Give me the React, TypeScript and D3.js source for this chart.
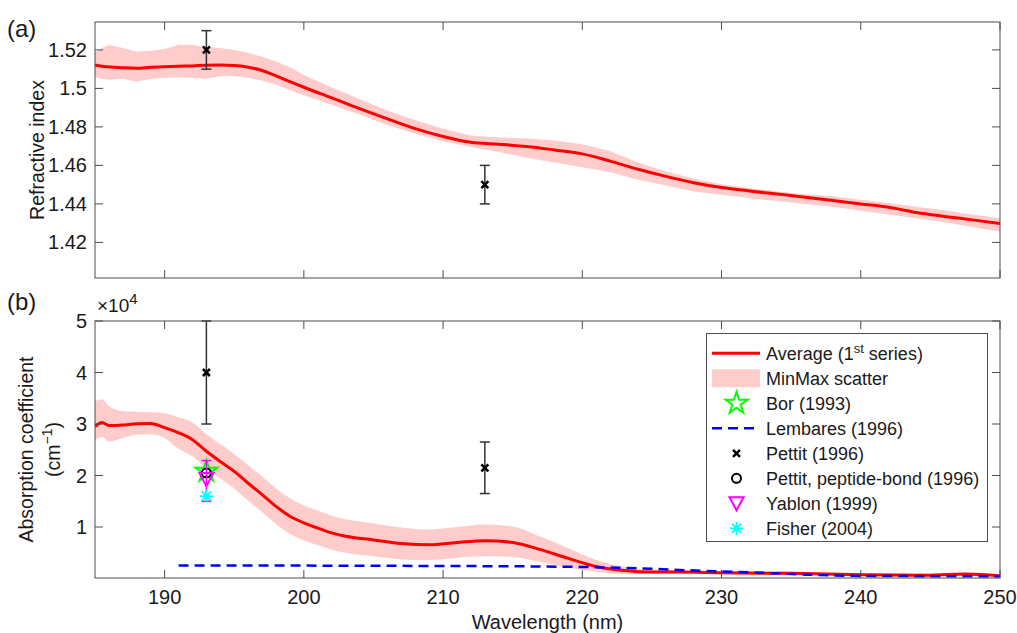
import React from "react";
import * as d3 from "d3";

// wavelength grid (nm) for the refractive index curve
const nWl = [185, 185.5, 186, 187, 188, 189, 190, 191, 192, 193, 194, 195, 196, 197, 198, 199, 200, 202, 204, 206, 208, 210, 212, 214, 216, 218, 220, 222, 224, 226, 228, 230, 232, 234, 236, 238, 240, 242, 244, 246, 248, 250];
const nAvg = [1.5122, 1.5115, 1.5112, 1.5107, 1.5105, 1.511, 1.5112, 1.5115, 1.5117, 1.512, 1.5121, 1.5119, 1.511, 1.5093, 1.5065, 1.5035, 1.5006, 1.4951, 1.4895, 1.4842, 1.4791, 1.475, 1.472, 1.471, 1.4698, 1.468, 1.466, 1.4622, 1.458, 1.4543, 1.451, 1.4485, 1.4467, 1.4451, 1.4435, 1.4418, 1.44, 1.4383, 1.4355, 1.4335, 1.4317, 1.4298];
const nMax = [1.5188, 1.521, 1.5225, 1.521, 1.519, 1.5195, 1.5205, 1.5227, 1.5225, 1.5215, 1.521, 1.52, 1.5185, 1.5165, 1.514, 1.511, 1.507, 1.5005, 1.4945, 1.4885, 1.4835, 1.479, 1.4755, 1.4745, 1.474, 1.473, 1.471, 1.4675, 1.4615, 1.4568, 1.453, 1.4502, 1.4482, 1.4465, 1.445, 1.444, 1.4422, 1.4405, 1.4385, 1.4367, 1.4345, 1.4325];
const nMin = [1.5058, 1.505, 1.5045, 1.505, 1.5035, 1.505, 1.5055, 1.5058, 1.5055, 1.505, 1.5063, 1.5065, 1.5055, 1.504, 1.502, 1.499, 1.4965, 1.4915, 1.4865, 1.481, 1.4765, 1.4725, 1.4695, 1.467, 1.464, 1.4615, 1.459, 1.4565, 1.4525, 1.4495, 1.4465, 1.4448, 1.443, 1.4415, 1.44, 1.4385, 1.4365, 1.4345, 1.4325, 1.4305, 1.428, 1.4255];

// wavelength grid (nm) for the absorption coefficient curve
const aWl = [185, 185.5, 186, 187, 188, 189, 190, 191, 192, 193, 194, 195, 196, 197, 198, 199, 200, 201, 202, 203, 205, 207, 209, 211, 213, 215, 217, 219, 221, 223, 225, 227, 230, 235, 240, 245, 247.5, 250];
const aAvg = [29500, 30300, 29700, 29800, 30050, 30100, 29300, 28300, 26950, 24700, 22700, 20800, 18500, 16300, 14000, 12100, 10800, 9800, 8850, 8200, 7500, 6800, 6550, 7000, 7350, 7000, 5600, 3900, 2350, 1550, 1250, 1250, 1100, 1000, 750, 650, 880, 550];
const aMax = [34400, 34800, 33500, 32500, 32400, 32300, 32100, 31300, 30300, 28000, 26100, 24200, 22000, 19800, 17500, 15600, 14200, 13200, 12200, 11500, 10700, 9900, 9500, 10000, 10500, 10100, 8100, 5900, 3600, 2300, 1700, 1600, 1450, 1300, 1050, 950, 1150, 850];
const aMin = [26950, 27500, 26600, 27300, 27900, 28000, 27300, 25200, 23700, 21400, 19400, 17500, 15100, 12900, 10600, 8700, 7400, 6500, 5600, 5000, 4300, 3700, 3600, 4000, 4300, 4200, 3200, 2100, 1300, 900, 900, 950, 800, 700, 500, 400, 600, 300];

// Lembares (1996)
const lemWl = [191, 205, 215, 220, 224, 227, 230, 233, 236, 239, 245, 250];
const lemVal = [2550, 2480, 2380, 2250, 2000, 1650, 1380, 1100, 750, 520, 450, 400];

// Pettit (1996) with error bars
const pettitWl = [193, 213];
const pettitN = [1.52, 1.45];
const pettitNErr = [0.01, 0.01];
const pettitA = [40000, 21500];
const pettitAErr = [10000, 5000];

// single points at 193 nm
const borA = 20800;
const peptideA = 20500;
const yablonA = 19300;
const yablonLo = 15000;
const yablonHi = 22900;
const fisherA = 16000;
const pointWl = 193;

const xTicks = [190, 200, 210, 220, 230, 240, 250];
const nTicks = [1.42, 1.44, 1.46, 1.48, 1.5, 1.52];
const aTicks = [1, 2, 3, 4, 5];

const legendLabels = ["Average", "MinMax scatter", "Bor (1993)", "Lembares (1996)", "Pettit (1996)", "Pettit, peptide-bond (1996)", "Yablon (1999)", "Fisher (2004)"];

const FONT = "'Liberation Sans', Arial, Helvetica, sans-serif";
const AX = "#4d4d4d";
const TXT = "#1a1a1a";

const X0 = 95, X1 = 1000;
const x = d3.scaleLinear().domain([185, 250]).range([X0, X1]);
const yN = d3.scaleLinear().domain([1.4015, 1.5345]).range([278, 22]);
const yA = d3.scaleLinear().domain([100, 50000]).range([578, 321]);

const cross = (cx, cy, s, color, w) => (
  <path d={`M${cx - s},${cy - s}L${cx + s},${cy + s}M${cx - s},${cy + s}L${cx + s},${cy - s}`} stroke={color} strokeWidth={w} fill="none" />
);
const star = (cx, cy, color) => (
  <path d={d3.symbol(d3.symbolStar, 150)()} transform={`translate(${cx},${cy})`} fill="none" stroke={color} strokeWidth={2} />
);
const triDown = (cx, cy, color) => (
  <path d={`M${cx - 7},${cy - 6}L${cx + 7},${cy - 6}L${cx},${cy + 7}Z`} fill="none" stroke={color} strokeWidth={2} />
);
const asterisk = (cx, cy, color) => {
  const r = 6.5, d = r * 0.7071;
  return (
    <path d={`M${cx},${cy - r}V${cy + r}M${cx - r},${cy}H${cx + r}M${cx - d},${cy - d}L${cx + d},${cy + d}M${cx - d},${cy + d}L${cx + d},${cy - d}`} stroke={color} strokeWidth={1.8} fill="none" />
  );
};
const errBar = (cx, lo, hi, color, key) => (
  <g key={key} stroke={color} strokeWidth={1.5}>
    <line x1={cx} x2={cx} y1={lo} y2={hi} />
    <line x1={cx - 5} x2={cx + 5} y1={lo} y2={lo} />
    <line x1={cx - 5} x2={cx + 5} y1={hi} y2={hi} />
  </g>
);

const Frame = ({ y, ticksY, top, bottom }) => (
  <g>
    {xTicks.map((t) => (
      <g key={"xt" + t} stroke={AX} strokeWidth={1}>
        <line x1={x(t)} x2={x(t)} y1={bottom} y2={bottom - 8} />
        <line x1={x(t)} x2={x(t)} y1={top} y2={top + 8} />
      </g>
    ))}
    {ticksY.map((t) => (
      <g key={"yt" + t} stroke={AX} strokeWidth={1}>
        <line x1={X0} x2={X0 + 8} y1={y(t)} y2={y(t)} />
        <line x1={X1} x2={X1 - 8} y1={y(t)} y2={y(t)} />
      </g>
    ))}
    <rect x={X0} y={top} width={X1 - X0} height={bottom - top} fill="none" stroke={AX} strokeWidth={1} />
  </g>
);

export default function App() {
  const nLine = d3.line().curve(d3.curveMonotoneX).x((d, i) => x(nWl[i])).y((d) => yN(d))(nAvg);
  const nArea = d3.area().x((d, i) => x(nWl[i])).y0((d, i) => yN(nMin[i])).y1((d) => yN(d))(nMax);
  const aLine = d3.line().curve(d3.curveMonotoneX).x((d, i) => x(aWl[i])).y((d) => yA(d))(aAvg);
  const aArea = d3.area().curve(d3.curveMonotoneX).x((d, i) => x(aWl[i])).y0((d, i) => yA(aMin[i])).y1((d) => yA(d))(aMax);
  const lemLine = d3.line().x((d, i) => x(lemWl[i])).y((d) => yA(d))(lemVal);
  const px = x(pointWl);

  const legX = 706.5, legY = 333.5;
  const rowY = (i) => 353.3 + 25 * i;
  const symX = 736.5;

  return (
    <svg width={1017} height={633} style={{ position: "absolute", left: 0, top: 0, background: "#fff" }} fontFamily={FONT}>
      <defs>
        <clipPath id="clipTop"><rect x={X0} y={22} width={X1 - X0} height={256} /></clipPath>
        <clipPath id="clipBot"><rect x={X0} y={321} width={X1 - X0} height={257} /></clipPath>
      </defs>

      {/* (a) refractive index */}
      <g clipPath="url(#clipTop)">
        <path d={nArea} fill="#ffcccc" />
        <path d={nLine} fill="none" stroke="#ff0000" strokeWidth={3} />
      </g>
      {pettitWl.map((w, i) => errBar(x(w), yN(pettitN[i] - pettitNErr[i]), yN(pettitN[i] + pettitNErr[i]), "#333", "pn" + i))}
      {pettitWl.map((w, i) => <g key={"pnx" + i}>{cross(x(w), yN(pettitN[i]), 3.5, "#000", 2.5)}</g>)}
      <Frame y={yN} ticksY={nTicks} top={22} bottom={278} />
      {nTicks.map((t) => (
        <text key={"nl" + t} x={87} y={yN(t)} dy="0.35em" textAnchor="end" fontSize={20} fill={TXT}>{String(t)}</text>
      ))}
      <text transform="translate(44,150) rotate(-90)" textAnchor="middle" fontSize={19.5} fill={TXT}>Refractive index</text>
      <text x={7} y={37} fontSize={24} fill={TXT}>(a)</text>

      {/* (b) absorption coefficient */}
      <g clipPath="url(#clipBot)">
        <path d={aArea} fill="#ffcccc" />
        <path d={aLine} fill="none" stroke="#ff0000" strokeWidth={3} />
        <path d={lemLine} fill="none" stroke="#0000ff" strokeWidth={2.5} strokeDasharray="10,6" />
      </g>
      {pettitWl.map((w, i) => errBar(x(w), yA(pettitA[i] - pettitAErr[i]), yA(pettitA[i] + pettitAErr[i]), "#333", "pa" + i))}
      {pettitWl.map((w, i) => <g key={"pax" + i}>{cross(x(w), yA(pettitA[i]), 3.5, "#000", 2.5)}</g>)}
      {star(px, yA(borA), "#00ff00")}
      <circle cx={px} cy={yA(peptideA)} r={4.5} fill="none" stroke="#000" strokeWidth={2} />
      {errBar(px, yA(yablonLo), yA(yablonHi), "#ff00ff", "yab")}
      {triDown(px, yA(yablonA), "#ff00ff")}
      {asterisk(px, yA(fisherA), "#00ffff")}
      <Frame y={yA} ticksY={aTicks.map((t) => t * 10000)} top={321} bottom={578} />
      {aTicks.map((t) => (
        <text key={"al" + t} x={87} y={yA(t * 10000)} dy="0.35em" textAnchor="end" fontSize={20} fill={TXT}>{t}</text>
      ))}
      <text x={97} y={312} fontSize={19} fill={TXT}>×10<tspan dy={-8} fontSize={15}>4</tspan></text>
      {xTicks.map((t) => (
        <text key={"xl" + t} x={x(t)} y={604} textAnchor="middle" fontSize={20} fill={TXT}>{t}</text>
      ))}
      <text x={(X0 + X1) / 2} y={629} textAnchor="middle" fontSize={20} fill={TXT}>Wavelength (nm)</text>
      <g transform="translate(33,449.5) rotate(-90)" fill={TXT}>
        <text x={0} y={0} textAnchor="middle" fontSize={19.5}>Absorption coefficient</text>
        <text x={0} y={27} textAnchor="middle" fontSize={19.5}>(cm<tspan dy={-8} fontSize={14}>−1</tspan><tspan dy={8}>)</tspan></text>
      </g>
      <text x={7} y={310} fontSize={24} fill={TXT}>(b)</text>

      {/* legend */}
      <rect x={legX} y={legY} width={281} height={208} fill="#fff" stroke={AX} strokeWidth={1} />
      <line x1={712} x2={760} y1={rowY(0)} y2={rowY(0)} stroke="#ff0000" strokeWidth={3} />
      <rect x={712} y={rowY(1) - 9} width={48} height={18} fill="#ffcccc" />
      {star(symX, rowY(2), "#00ff00")}
      <line x1={712} x2={760} y1={rowY(3)} y2={rowY(3)} stroke="#0000ff" strokeWidth={2.5} strokeDasharray="10,6" />
      {cross(symX, rowY(4), 3.5, "#000", 2.5)}
      <circle cx={symX} cy={rowY(5)} r={4.5} fill="none" stroke="#000" strokeWidth={2} />
      {triDown(symX, rowY(6), "#ff00ff")}
      {asterisk(symX, rowY(7), "#00ffff")}
      {legendLabels.map((l, i) => (
        <text key={l} x={766} y={rowY(i)} dy="0.36em" fontSize={18} fill={TXT}>
          {i === 0 ? (<>{l} (1<tspan dy={-7} fontSize={13}>st</tspan><tspan dy={7}> series)</tspan></>) : l}
        </text>
      ))}
    </svg>
  );
}
